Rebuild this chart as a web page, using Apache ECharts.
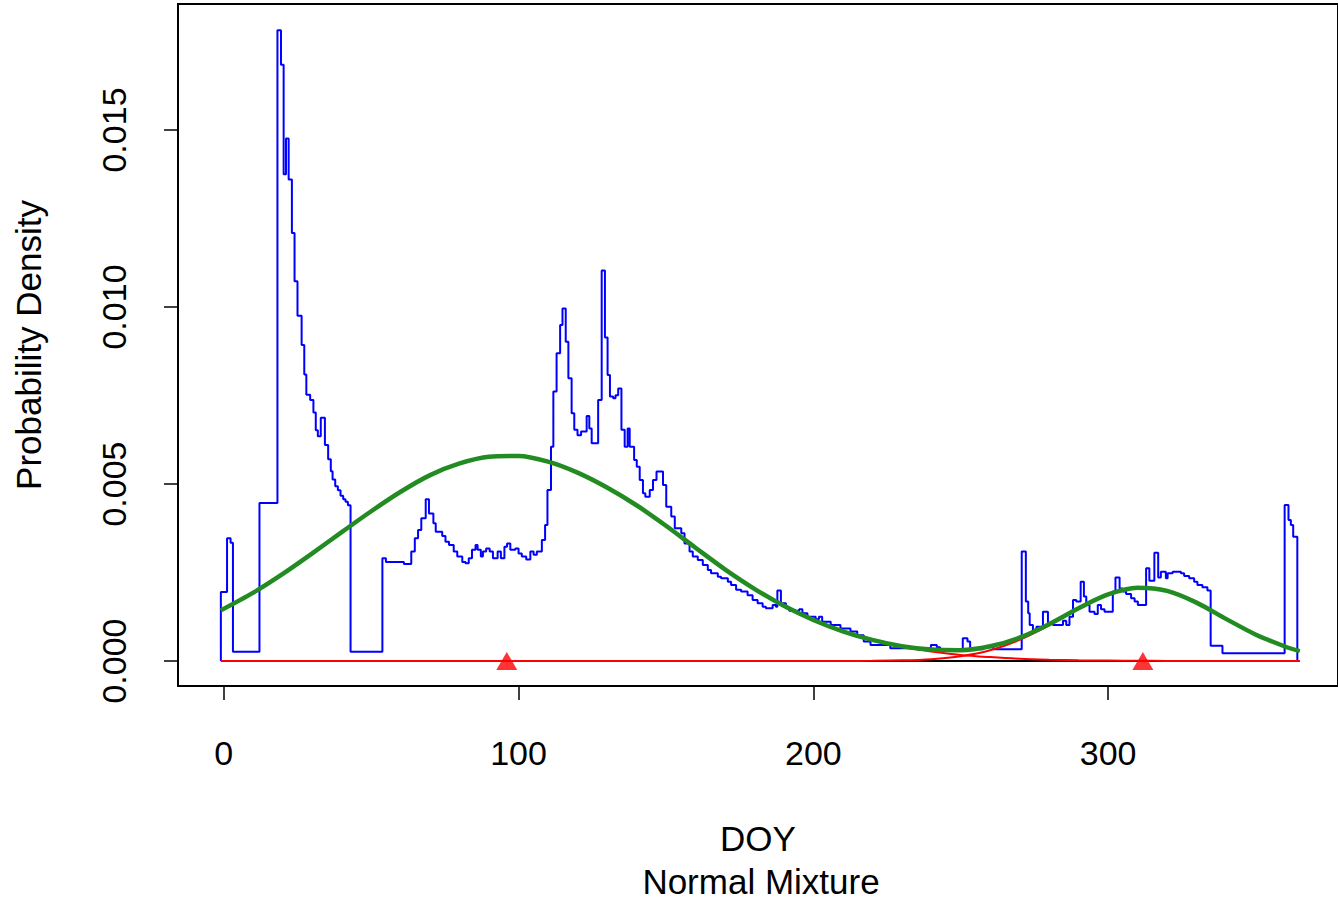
<!DOCTYPE html>
<html>
<head>
<meta charset="utf-8">
<script src="https://cdn.jsdelivr.net/npm/echarts@6/dist/echarts.min.js"></script>
<style>
html,body{margin:0;padding:0;background:#fff;}
#c{width:1338px;height:900px;}
</style>
</head>
<body>
<div id="c"></div>
<script>
// ---- Data ----
// Empirical density (blue step line): day where each step starts, and its height
const blueDays = [-1,-1,1.1,2.3,3.1,12.1,18.2,19.4,20.3,21.1,
  22.0,23.1,24.0,25.0,26.4,27.3,28.0,29.3,30.4,31.2,
  31.9,32.9,34.3,35.4,36.3,36.9,37.8,38.7,39.6,40.5,
  41.3,42.1,43.0,53.8,55.0,61.1,63.6,64.8,65.9,67.0,
  68.5,69.6,71.1,71.9,74.1,75.2,76.4,78.0,79.2,80.9,
  82.0,83.1,84.2,85.4,86.1,87.2,87.9,89.0,90.2,91.3,
  92.9,94.0,95.2,96.1,97.2,98.9,100.0,101.1,102.6,104.0,
  105.1,106.2,107.9,109.0,109.8,111.0,111.8,112.9,114.1,114.9,
  116.0,116.9,118.0,118.9,120.0,121.2,123.1,124.0,124.8,127.0,
  128.2,129.3,130.2,131.0,132.1,132.9,133.8,134.9,136.0,137.0,
  137.7,139.2,140.1,141.1,142.2,143.0,144.5,145.6,146.8,149.0,
  150.1,151.8,153.0,155.2,156.3,158.0,159.1,160.8,162.5,164.2,
  165.3,167.6,168.7,171.0,172.1,173.8,175.5,177.7,179.4,181.1,
  182.8,183.9,186.2,187.3,187.8,189.0,190.7,191.8,195.2,196.3,
  198.0,200.8,201.9,203.0,205.9,209.2,212.6,214.9,217.1,219.4,
  226.1,239.9,241.9,243.0,250.7,252.3,253.2,254.3,257.7,261.1,
  270.7,272.1,272.9,273.4,274.5,275.7,277.9,279.6,281.3,284.7,
  285.8,286.9,288.1,289.2,290.7,291.8,292.6,293.7,295.4,296.5,
  297.6,298.8,301.6,302.5,303.9,305.0,306.1,307.8,309.0,310.1,
  312.9,314.0,315.7,317.0,317.9,319.6,320.2,321.9,324.7,325.8,
  327.5,329.2,330.3,332.0,333.7,334.8,338.8,359.9,361.2,362.0,
  362.8,364.2];
const blueDens = [0,0.00195,0.00347,0.00334,0.00026,0.00446,0.01782,0.01684,0.01375,0.01476,
  0.0136,0.01209,0.01073,0.00975,0.00893,0.00809,0.00752,0.00737,0.00702,0.00652,
  0.00635,0.00687,0.0061,0.0057,0.00536,0.00513,0.00494,0.00482,0.00467,0.00457,
  0.0045,0.0044,0.00026,0.0029,0.0028,0.00274,0.00309,0.00347,0.0037,0.00403,
  0.00457,0.00417,0.00389,0.00365,0.00353,0.00337,0.00328,0.00309,0.00295,0.0028,
  0.00276,0.0029,0.00314,0.00328,0.00314,0.00295,0.00309,0.00318,0.00309,0.0029,
  0.00309,0.0029,0.00323,0.00332,0.00314,0.00318,0.00304,0.00295,0.00287,0.00309,
  0.003,0.00309,0.00342,0.00384,0.00483,0.00605,0.00761,0.00869,0.00949,0.00996,
  0.00902,0.00799,0.007,0.00653,0.00638,0.00648,0.00692,0.00657,0.00615,0.00737,
  0.01103,0.00914,0.00808,0.00747,0.00742,0.00751,0.0077,0.00653,0.00605,0.00657,
  0.00605,0.00568,0.00549,0.00511,0.00474,0.00464,0.00483,0.00511,0.00535,0.00497,
  0.00436,0.00408,0.00375,0.00361,0.00332,0.00309,0.00295,0.00285,0.00271,0.00257,
  0.00248,0.00238,0.00234,0.00224,0.00215,0.00201,0.00196,0.00186,0.00172,0.00163,
  0.00153,0.00149,0.00158,0.00153,0.00199,0.00163,0.00149,0.00142,0.00146,0.00135,
  0.00125,0.00118,0.00125,0.00111,0.00102,0.00092,0.00083,0.00073,0.00055,0.00045,
  0.00036,0.00045,0.00039,0.00033,0.00064,0.00055,0.00036,0.00033,0.00039,0.00033,
  0.00309,0.00168,0.00135,0.00102,0.00088,0.00097,0.00139,0.00106,0.00102,0.00114,
  0.00102,0.00125,0.00172,0.00168,0.00224,0.00182,0.00158,0.00139,0.00133,0.00158,
  0.00146,0.00139,0.00196,0.00236,0.00205,0.00196,0.00189,0.00177,0.00168,0.00158,
  0.00262,0.00227,0.00306,0.00236,0.00252,0.00234,0.00248,0.00252,0.00248,0.0024,
  0.00234,0.00224,0.00215,0.00208,0.00199,0.00043,0.00022,0.00441,0.00398,0.00384,
  0.00351,0];

// Fitted curves (green mixture, red components), read at these days
const curveDays = [-1,10,20,30,40,50,60,70,80,90,100,110,120,130,140,150,160,170,180,190,
  200,210,220,230,240,250,260,270,280,290,300,310,320,330,340,350,360,365];
const mixDens = [0.00143,0.00193,0.00246,0.00304,0.00364,0.00423,0.00478,0.00525,0.00558,0.00577,
  0.00579,0.00563,0.00532,0.0049,0.0044,0.00382,0.0032,0.00259,0.00204,0.00156,
  0.00116,0.00084,0.000595,0.000418,0.000323,0.000307,0.000416,0.000659,0.00104,0.00149,
  0.00188,0.00207,0.00198,0.00165,0.00119,0.00075,0.00041,0.00028];
const comp1Dens = [0.00143,0.00193,0.00246,0.00304,0.00364,0.00423,0.00478,0.00525,0.00558,0.00577,
  0.00579,0.00563,0.00532,0.0049,0.0044,0.00382,0.0032,0.00259,0.00204,0.00156,
  0.00116,0.00084,0.00059,0.0004,0.00027,0.00017,0.00011,0.000064,0.000038,0.000021,
  0.000012,0.000006,0.000003,0.000001,0,0,0,0];
const comp2Dens = [0,0,0,0,0,0,0,0,0,0,
  0,0,0,0,0,0,0,0,0,0,
  0,0.000001,0.000005,0.000018,0.000053,0.000137,0.000306,0.000595,0.001004,0.00147,
  0.00187,0.00206,0.00198,0.00165,0.00119,0.00075,0.00041,0.00028];
const compMeans = [96, 311.8];
const baseRange = [-1, 365];

const xTicks = [0, 100, 200, 300];
const yTicks = [0, 0.005, 0.010, 0.015];

if (blueDays.length !== blueDens.length) throw new Error('blue length mismatch ' + blueDays.length + ' ' + blueDens.length);
[mixDens, comp1Dens, comp2Dens].forEach(function (a, i) {
  if (a.length !== curveDays.length) throw new Error('curve length mismatch ' + i + ' ' + a.length);
});

const zip = (xs, ys) => xs.map((x, i) => [x, ys[i]]);
const FONT = "'Liberation Sans', Arial, Helvetica, sans-serif";

const chart = echarts.init(document.getElementById('c'), null, { renderer: 'svg' });
chart.setOption({
  animation: false,
  backgroundColor: '#ffffff',
  title: {
    text: 'Normal Mixture',
    left: 761, top: 864, textAlign: 'center', padding: 0,
    textStyle: { fontFamily: FONT, fontSize: 35, fontWeight: 'normal', color: '#000' }
  },
  grid: {
    left: 178, top: 4, width: 1165, height: 682,
    show: true, borderColor: '#000', borderWidth: 2, backgroundColor: 'transparent'
  },
  xAxis: {
    type: 'value', min: -15.54, max: 378.0,
    name: 'DOY', nameLocation: 'middle', nameGap: 135,
    nameTextStyle: { fontFamily: FONT, fontSize: 35, color: '#000' },
    axisLine: { show: true, onZero: false, lineStyle: { color: '#000', width: 2 } },
    splitLine: { show: false },
    axisTick: { show: true, customValues: xTicks, length: 14, lineStyle: { color: '#000', width: 1.5 } },
    axisLabel: { customValues: xTicks, margin: 50, fontFamily: FONT, fontSize: 34, color: '#000' }
  },
  yAxis: {
    type: 'value', min: -0.000706, max: 0.018559,
    name: 'Probability Density', nameLocation: 'middle', nameGap: 132,
    nameTextStyle: { fontFamily: FONT, fontSize: 35, color: '#000' },
    axisLine: { show: true, onZero: false, lineStyle: { color: '#000', width: 2 } },
    splitLine: { show: false },
    axisTick: { show: true, customValues: yTicks, length: 14, lineStyle: { color: '#000', width: 1.5 } },
    axisLabel: { customValues: yTicks, rotate: 90, margin: 47, fontFamily: FONT, fontSize: 34, color: '#000',
      formatter: function (v) { return v.toFixed(3); } }
  },
  series: [
    { type: 'line', name: 'baseline', data: baseRange.map(d => [d, 0]), symbol: 'none', z: 1,
      lineStyle: { color: '#000', width: 2 } },
    { type: 'line', name: 'empirical', data: zip(blueDays, blueDens), step: 'end', symbol: 'none', z: 2,
      lineStyle: { color: '#0000ff', width: 2 } },
    { type: 'line', name: 'component 1', data: zip(curveDays, comp1Dens), smooth: 0.3, symbol: 'none', z: 3,
      lineStyle: { color: '#ff0000', width: 2 } },
    { type: 'line', name: 'component 2', data: zip(curveDays, comp2Dens), smooth: 0.3, symbol: 'none', z: 3,
      lineStyle: { color: '#ff0000', width: 2 } },
    { type: 'line', name: 'mixture', data: zip(curveDays, mixDens), smooth: 0.3, symbol: 'none', z: 4,
      lineStyle: { color: '#228b22', width: 4.5 } },
    { type: 'scatter', name: 'means', data: compMeans.map(m => [m, 0]), symbol: 'triangle',
      symbolSize: [21, 18], z: 5, itemStyle: { color: '#ff0000' } }
  ]
});
</script>
</body>
</html>
